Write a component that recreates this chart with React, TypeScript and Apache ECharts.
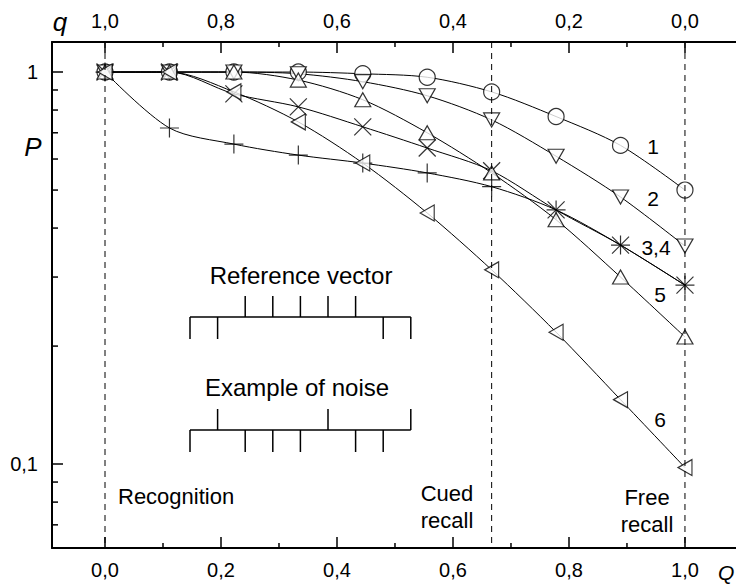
import React, { useEffect, useRef } from 'react';
import * as echarts from 'echarts';

// ---- data ----
const Q = [0, 1 / 9, 2 / 9, 3 / 9, 4 / 9, 5 / 9, 6 / 9, 7 / 9, 8 / 9, 1];
const curve1 = [1, 1, 1, 1, 0.99, 0.97, 0.89, 0.77, 0.65, 0.5];
const curve2 = [1, 1, 1, 0.99, 0.945, 0.87, 0.755, 0.61, 0.48, 0.36];
const curve3 = [1, 1, 0.88, 0.815, 0.725, 0.64, 0.56, 0.445, 0.362, 0.286];
const curve4 = [1, 0.72, 0.655, 0.614, 0.586, 0.553, 0.51, 0.445, 0.362, 0.286];
const curve5 = [1, 1, 1, 0.954, 0.85, 0.7, 0.553, 0.42, 0.3, 0.211];
const curve6 = [1, 1, 0.89, 0.746, 0.586, 0.437, 0.313, 0.217, 0.146, 0.098];
const curveLabels = ['1', '2', '3,4', '5', '6'];
const xTicks = [0, 0.2, 0.4, 0.6, 0.8, 1.0];
const xMinorTicks = [0.1, 0.3, 0.5, 0.7, 0.9];
const yTicks = [0.1, 1];
const yMinorTicks = [0.07, 0.08, 0.09, 0.2, 0.3, 0.4, 0.5, 0.6, 0.7, 0.8, 0.9];
const regionLines = [0, 2 / 3, 1];
const regionNames = ['Recognition', 'Cued\nrecall', 'Free\nrecall'];
const refVector = [0, 0, 1, 1, 1, 1, 1, 0, 0];
const noiseVector = [0, 1, 0, 0, 0, 1, 0, 0, 1];

// ---- axis ranges ----
const X_MIN = -0.0914;
const X_MAX = 1.088;
const Y_MIN = 0.0611;
const Y_MAX = 1.193;

const FONT = 'Liberation Sans, Arial, sans-serif';

const SYMBOLS = [
  { symbol: 'circle', size: 16 },
  { symbol: 'path://M0,0L2,0L1,1.732Z', size: [16, 14] },
  { symbol: 'path://M0,0L1,1M1,0L0,1', size: [17, 17] },
  { symbol: 'path://M1,0L1,2M0,1L2,1', size: [19, 19] },
  { symbol: 'path://M1,0L2,1.732L0,1.732Z', size: [16, 14] },
  { symbol: 'path://M0,1L1.732,0L1.732,2Z', size: [14, 16] },
];

const curves = [curve1, curve2, curve3, curve4, curve5, curve6];

function fmt(v: number) {
  return (Math.round(v * 10) / 10).toFixed(1).replace('.', ',');
}

export default function App() {
  const ref = useRef<HTMLDivElement>(null);
  useEffect(() => {
    if (!ref.current) return;
    const chart = echarts.init(ref.current, undefined, { renderer: 'svg' });

    const lineSeries = curves.map((c, k) => ({
      type: 'line',
      name: 'c' + (k + 1),
      data: Q.map((q, i) => [q, c[i]]),
      showSymbol: false,
      smooth: 0.3,
      lineStyle: { color: '#000', width: 1 },
      z: 2,
      silent: true,
    }));
    const markerSeries = curves.map((c, k) => ({
      type: 'scatter',
      name: 'm' + (k + 1),
      data: Q.map((q, i) => [q, c[i]]),
      symbol: SYMBOLS[k].symbol,
      symbolSize: SYMBOLS[k].size,
      itemStyle: { color: '#fff', borderColor: '#000', borderWidth: 1.2 },
      z: 3,
      silent: true,
    }));

    const minorData = [
      ...yMinorTicks.map((v) => [X_MIN, v, 0]),
      ...xMinorTicks.map((v) => [v, Y_MIN, 1]),
      ...xMinorTicks.map((v) => [v, Y_MAX, 2]),
    ];

    const labelPos = [
      [653, 146],
      [653, 198],
      [656, 247],
      [660, 294],
      [660, 419],
    ];

    const insetX0 = 190;
    const insetStep = 27.6;
    const vecGraphics = (vec: number[], y: number) => {
      const els: any[] = [
        {
          type: 'line',
          shape: { x1: insetX0, y1: y, x2: insetX0 + insetStep * (vec.length - 1), y2: y },
          style: { stroke: '#000', lineWidth: 1.5 },
        },
      ];
      vec.forEach((b, i) => {
        const x = insetX0 + insetStep * i;
        els.push({
          type: 'line',
          shape: { x1: x, y1: y, x2: x, y2: b ? y - 21 : y + 22 },
          style: { stroke: '#000', lineWidth: 1.5 },
        });
      });
      return els;
    };

    const txt = (text: string, x: number, y: number, size: number, extra: any = {}) => ({
      type: 'text',
      x,
      y,
      style: {
        text,
        fontSize: size,
        fontFamily: FONT,
        fill: '#000',
        textAlign: 'center',
        textVerticalAlign: 'middle',
        ...extra,
      },
      z: 10,
    });

    const option: any = {
      animation: false,
      backgroundColor: '#fff',
      grid: { left: 52, top: 42, right: 0, bottom: 37, containLabel: false },
      xAxis: [
        {
          type: 'value',
          min: X_MIN,
          max: X_MAX,
          position: 'bottom',
          axisLine: { onZero: false, lineStyle: { color: '#000', width: 2 } },
          axisTick: { inside: true, length: 11, customValues: xTicks, lineStyle: { color: '#000', width: 1.5 } },
          axisLabel: { customValues: xTicks, formatter: (v: number) => fmt(v), fontSize: 20, fontFamily: FONT, color: '#000', margin: 12 },
          splitLine: { show: false },
        },
        {
          type: 'value',
          min: X_MIN,
          max: X_MAX,
          position: 'top',
          axisLine: { onZero: false, lineStyle: { color: '#000', width: 2 } },
          axisTick: { inside: true, length: 11, customValues: xTicks, lineStyle: { color: '#000', width: 1.5 } },
          axisLabel: { customValues: xTicks, formatter: (v: number) => fmt(1 - v), fontSize: 20, fontFamily: FONT, color: '#000', margin: 11 },
          splitLine: { show: false },
        },
      ],
      yAxis: [
        {
          type: 'log',
          logBase: 10,
          min: Y_MIN,
          max: Y_MAX,
          position: 'left',
          axisLine: { onZero: false, lineStyle: { color: '#000', width: 2 } },
          axisTick: { inside: true, length: 11, lineStyle: { color: '#000', width: 1.5 } },
          axisLabel: {
            formatter: (v: number) => {
              for (const t of yTicks) if (Math.abs(v - t) < 1e-6) return fmt(t).replace(/^1,0$/, '1');
              return '';
            },
            fontSize: 20,
            fontFamily: FONT,
            color: '#000',
            margin: 14,
          },
          splitLine: { show: false },
          minorTick: { show: false },
        },
      ],
      series: [
        ...lineSeries,
        ...markerSeries,
        {
          type: 'custom',
          name: 'minorTicks',
          data: minorData,
          clip: false,
          silent: true,
          z: 4,
          renderItem: (params: any, api: any) => {
            const p = api.coord([api.value(0), api.value(1)]);
            const kind = api.value(2);
            let x2 = p[0];
            let y2 = p[1];
            if (kind === 0) x2 = p[0] + 6;
            else if (kind === 1) y2 = p[1] - 5;
            else y2 = p[1] + 5;
            return {
              type: 'line',
              shape: { x1: p[0], y1: p[1], x2, y2 },
              style: { stroke: '#000', lineWidth: 1.5 },
            };
          },
        },
        {
          type: 'custom',
          name: 'regions',
          data: regionLines.map((x) => [x, Y_MIN]),
          clip: false,
          silent: true,
          z: 5,
          renderItem: (params: any, api: any) => {
            const x = api.value(0);
            const a = api.coord([x, Y_MAX]);
            const b = api.coord([x, Y_MIN]);
            return {
              type: 'line',
              shape: { x1: a[0], y1: a[1], x2: b[0], y2: b[1] },
              style: { stroke: '#000', lineWidth: 1, lineDash: [6, 5] },
            };
          },
        },
      ],
      graphic: [
        txt('q', 60, 22, 26, { fontStyle: 'italic' }),
        txt('P', 33, 147, 26, { fontStyle: 'italic' }),
        txt('Q', 718, 572, 21, { fontStyle: 'italic', textAlign: 'left' }),
        txt(regionNames[0], 118, 496, 22, { textAlign: 'left' }),
        txt(regionNames[1], 447, 507, 22, { lineHeight: 27 }),
        txt(regionNames[2], 647, 511, 22, { lineHeight: 27 }),
        ...curveLabels.map((l, i) => txt(l, labelPos[i][0], labelPos[i][1], 21)),
        txt('Reference vector', 301, 275, 24),
        txt('Example of noise', 297, 387, 24),
        ...vecGraphics(refVector, 317),
        ...vecGraphics(noiseVector, 430),
      ],
    };
    chart.setOption(option);
    return () => chart.dispose();
  }, []);
  return (
    <div
      ref={ref}
      style={{ position: 'absolute', left: 0, top: 0, width: 736, height: 585, background: '#fff' }}
    />
  );
}
